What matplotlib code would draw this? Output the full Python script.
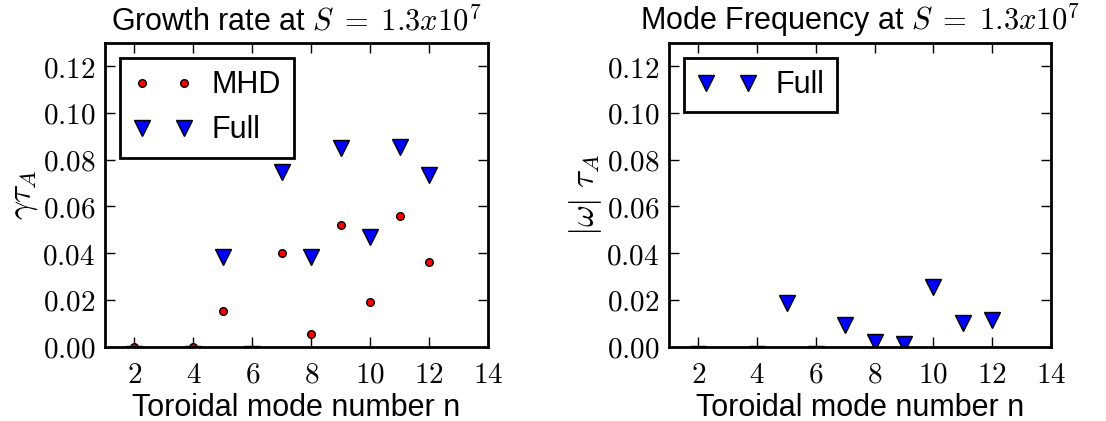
import matplotlib
matplotlib.use("Agg")
import matplotlib.pyplot as plt
from matplotlib.ticker import FuncFormatter

# toroidal mode numbers and results
n_mhd = [2, 4, 5, 7, 8, 9, 10, 11, 12]
gamma_mhd = [0.0, 0.0, 0.0154, 0.0399, 0.0054, 0.052, 0.0191, 0.0557, 0.0363]

# stable / zero modes sit just below the axis, so only their top edge shows
n_full = [2, 4, 5, 6, 7, 8, 9, 10, 11, 12]
gamma_full = [-0.003, -0.003, 0.0385, -0.003, 0.0748, 0.0385, 0.085, 0.0467, 0.0855, 0.0735]
omega_full = [-0.003, -0.003, 0.0185, -0.003, 0.0093, 0.002, 0.0013, 0.0254, 0.0103, 0.0114]

xticks = [2, 4, 6, 8, 10, 12, 14]
yticks = [0.0, 0.02, 0.04, 0.06, 0.08, 0.10, 0.12]

plt.rcParams['font.family'] = ['Liberation Sans', 'DejaVu Sans']
plt.rcParams['mathtext.fontset'] = 'cm'

fig = plt.figure(figsize=(11.06, 4.21), dpi=100)
ax1 = fig.add_axes([105 / 1106, 1 - 346.7 / 421, 383 / 1106, 304 / 421])
ax2 = fig.add_axes([669 / 1106, 1 - 346.7 / 421, 382 / 1106, 304 / 421])

tickfmt_x = FuncFormatter(lambda v, p: r'$%d$' % v)
tickfmt_y = FuncFormatter(lambda v, p: r'$%.2f$' % v)


def style_axes(ax):
    ax.set_xlim(1, 14)
    ax.set_ylim(0, 0.13)
    ax.set_xticks(xticks)
    ax.set_yticks(yticks)
    ax.xaxis.set_major_formatter(tickfmt_x)
    ax.yaxis.set_major_formatter(tickfmt_y)
    ax.tick_params(direction='in', length=7, width=1, top=True, right=True,
                   labelsize=21)
    ax.tick_params(axis='x', pad=10)
    ax.tick_params(axis='y', pad=7)
    for s in ax.spines.values():
        s.set_linewidth(2)
    ax.set_xlabel('Toroidal mode number n', fontsize=22, labelpad=3)


def style_legend(ax):
    leg = ax.legend(loc='upper left', numpoints=2, fontsize=22, fancybox=False,
                    framealpha=1, borderaxespad=0.5, handletextpad=0.6)
    leg.get_frame().set_edgecolor('black')
    leg.get_frame().set_linewidth(2)


# --- growth rate ---
ax1.plot(n_mhd, gamma_mhd, 'o', color='red', mec='black', mew=1, ms=5.5,
         label='MHD')
ax1.plot(n_full, gamma_full, 'v', color='blue', mec='black', mew=1, ms=11,
         label='Full')
style_axes(ax1)
ax1.set_ylabel(r'$\gamma\tau_A$', fontsize=24, labelpad=2)
ax1.set_title(r'Growth rate at $S\;=\;1.3x10^7$', fontsize=22, pad=9)
style_legend(ax1)

# --- mode frequency ---
ax2.plot(n_full, omega_full, 'v', color='blue', mec='black', mew=1, ms=11,
         label='Full')
style_axes(ax2)
ax2.set_ylabel(r'$|\omega|\ \tau_A$', fontsize=24, labelpad=2)
ax2.set_title(r'Mode Frequency at $S\;=\;1.3x10^7$', fontsize=22, pad=9)
style_legend(ax2)

fig.savefig('out.png', dpi=100)
